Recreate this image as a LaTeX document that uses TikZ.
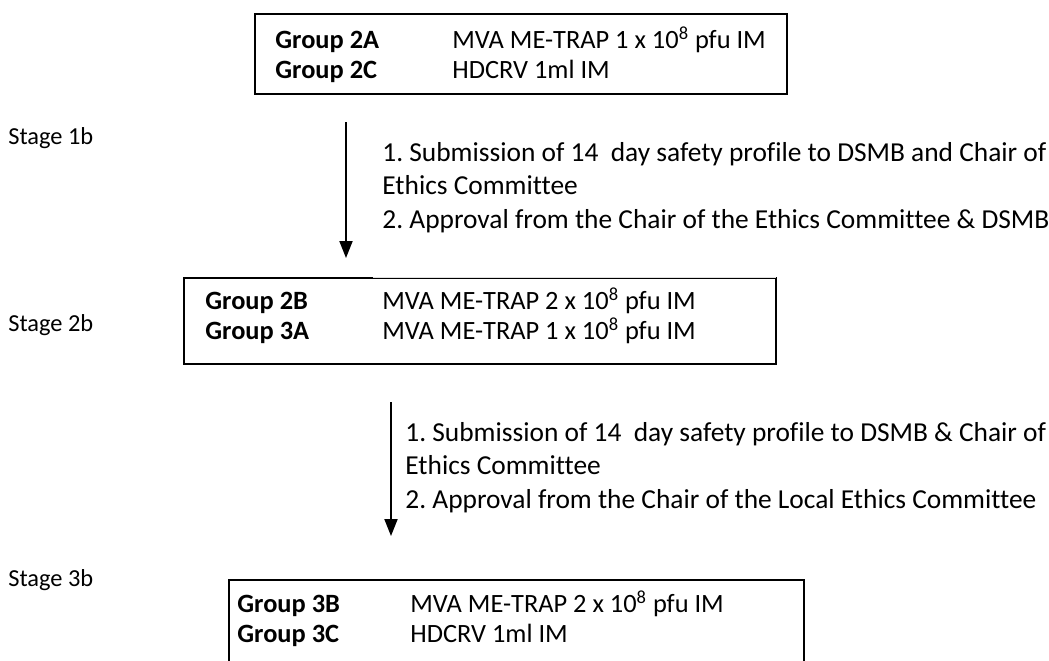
\documentclass[tikz,border=0pt]{standalone}
\usepackage{fontspec}
\setmainfont{Carlito}[Ligatures=NoCommon]
\usetikzlibrary{arrows.meta}
\begin{document}
\begin{tikzpicture}[x=0.5pt,y=-0.5pt,
    grpbox/.style={draw,line width=1pt,anchor=north west,inner sep=0pt},
    grptext/.style={anchor=west,inner sep=0pt,font=\fontsize{13.2}{15}\selectfont\frenchspacing},
    note/.style={anchor=west,inner sep=0pt,font=\fontsize{13.7}{16.75}\selectfont\frenchspacing},
    stage/.style={anchor=west,inner sep=0pt,font=\fontsize{12.2}{15}\selectfont},
    flow/.style={line width=1pt,-{Triangle[length=8.5pt,width=6.5pt]}}]
    \useasboundingbox (0,0) rectangle (1049,660);

    \node[stage] (stg1) at (8,138) {Stage 1b};
    \node[stage] (stg2) at (8,325) {Stage 2b};
    \node[stage] (stg3) at (8,580) {Stage 3b};

    \node[grpbox,minimum width=266pt,minimum height=40pt] (box2a) at (254,13) {};
    \node[grptext] (txt2a) at (275,57)
        {\begin{tabular}{@{}p{88.5pt}@{}l@{}}
        \textbf{Group 2A} & MVA ME-TRAP 1 x 10\textsuperscript{8} pfu IM\\
        \textbf{Group 2C} & HDCRV 1ml IM
        \end{tabular}};

    \coordinate (a1s) at (346,122);
    \coordinate (a1e) at (346,258);
    \draw[flow] (a1s) -- (a1e);

    \node[note] (note1) at (382,188)
        {\begin{tabular}{@{}l@{}}
        1. Submission of 14\ \ day safety profile to DSMB and Chair of\\
        Ethics Committee\\
        2. Approval from the Chair of the Ethics Committee \& DSMB
        \end{tabular}};

    \node[grpbox,minimum width=296pt,minimum height=43pt] (box2b) at (183,277) {};
    \node[grptext] (txt2b) at (205,318)
        {\begin{tabular}{@{}p{88.5pt}@{}l@{}}
        \textbf{Group 2B} & MVA ME-TRAP 2 x 10\textsuperscript{8} pfu IM\\
        \textbf{Group 3A} & MVA ME-TRAP 1 x 10\textsuperscript{8} pfu IM
        \end{tabular}};
    % lighter top edge right of the join
    \draw[white,line width=1.4pt] (373,0 |- box2b.north) -- ([xshift=-0.5pt]box2b.north east);
    \draw[gray!25,line width=0.5pt] (373,0 |- box2b.north) -- ([xshift=-0.5pt]box2b.north east);

    \coordinate (a2s) at (391,402);
    \coordinate (a2e) at (391,536);
    \draw[flow] (a2s) -- (a2e);

    \node[note] (note2) at (405,468)
        {\begin{tabular}{@{}l@{}}
        1. Submission of 14\ \ day safety profile to DSMB \& Chair of\\
        Ethics Committee\\
        2. Approval from the Chair of the Local Ethics Committee
        \end{tabular}};

    \node[grpbox,minimum width=287.5pt,minimum height=43pt] (box3b) at (228,579) {};
    \node[grptext] (txt3b) at (237,621)
        {\begin{tabular}{@{}p{86.5pt}@{}l@{}}
        \textbf{Group 3B} & MVA ME-TRAP 2 x 10\textsuperscript{8} pfu IM\\
        \textbf{Group 3C} & HDCRV 1ml IM
        \end{tabular}};
\end{tikzpicture}
\end{document}
